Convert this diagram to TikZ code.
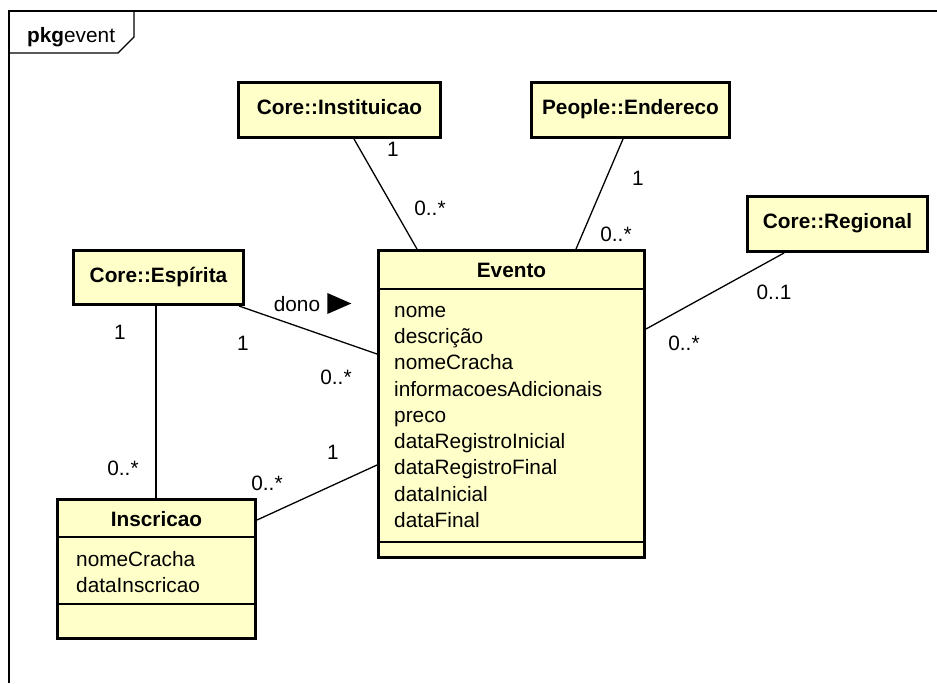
\documentclass[tikz,border=0pt]{standalone}
\usepackage{fontspec}
\setmainfont{Liberation Sans}
\usetikzlibrary{calc}
\definecolor{clsfill}{RGB}{255,255,202}
\tikzset{
  cls/.style={draw=black, line width=3pt, fill=clsfill, inner sep=0pt, anchor=north west},
  clsname/.style={font=\fontsize{20.8}{24}\selectfont\bfseries, inner sep=0pt},
  onebox/.style={cls, clsname, minimum height=55pt, text height=14.9pt, text depth=5pt},
  attr/.style={font=\fontsize{20.8}{24}\selectfont, anchor=base west, inner sep=0pt},
  mult/.style={font=\fontsize{20.8}{24}\selectfont, inner sep=0pt},
  assoc/.style={line width=1.3pt},
  sep/.style={line width=1.4pt},
  frame/.style={line width=1.3pt},
}
\begin{document}
\begin{tikzpicture}[x=1pt,y=-1pt]
\useasboundingbox (0,0) rectangle (937,683);

% package frame and its tab
\draw[frame] (937,11) -- (9,11) -- (9,683);
\draw[frame] (9,53) -- (118,53) -- (134,37) -- (134,11);
\node[anchor=base west, inner sep=0pt, font=\fontsize{20.8}{24}\selectfont] (pkg) at (27,42) {\textbf{pkg}event};

% single-compartment classes
\node[onebox, minimum width=202pt] (inst) at (237,81) {Core::Instituicao};
\node[onebox, minimum width=198pt] (endr) at (530,81) {People::Endereco};
\node[onebox, minimum width=180pt] (reg) at (746,195) {Core::Regional};
\node[onebox, minimum width=170pt, minimum height=54pt] (esp) at (72,249) {Core::Espírita};

% Evento
\node[cls, minimum width=266pt, minimum height=307pt] (evt) at (377,249) {};
\node[clsname, anchor=base] (evtname) at ($(evt.north)+(0,28.5)$) {Evento};
\draw[sep] ($(evt.north west)+(0,40)$) -- ($(evt.north east)+(0,40)$);
\draw[sep] ($(evt.south west)+(0,-17)$) -- ($(evt.south east)+(0,-17)$);
\foreach \t [count=\i] in {nome,descrição,nomeCracha,informacoesAdicionais,preco,dataRegistroInicial,dataRegistroFinal,dataInicial,dataFinal}
  \node[attr] (evta\i) at ($(evt.north west)+(17,68.3+26.25*\i-26.25)$) {\t};

% Inscricao
\node[cls, minimum width=198pt, minimum height=139pt] (insc) at (56,498) {};
\node[clsname, anchor=base] (inscname) at ($(insc.north)+(0,28.5)$) {Inscricao};
\draw[sep] ($(insc.north west)+(0,39)$) -- ($(insc.north east)+(0,39)$);
\draw[sep] ($(insc.north west)+(0,106)$) -- ($(insc.north east)+(0,106)$);
\node[attr] (insca1) at ($(insc.north west)+(20,68.5)$) {nomeCracha};
\node[attr] (insca2) at ($(insc.north west)+(20,94.5)$) {dataInscricao};

% associations
\draw[assoc] ($(inst.south west)+(117,0)$) -- ($(evt.north west)+(40,0)$);
\draw[assoc] ($(endr.south west)+(93,0)$) -- ($(evt.north west)+(199,0)$);
\draw[assoc] ($(reg.south west)+(38,0)$) -- ($(evt.north east)+(0,80)$);
\draw[assoc] ($(esp.south east)+(-6,0)$) -- ($(evt.north west)+(0,105)$);
\draw[assoc] ($(esp.south west)+(84,0)$) -- ($(insc.north west)+(100,0)$);
\draw[assoc] ($(insc.north east)+(0,22)$) -- ($(evt.north west)+(0,216)$);

% multiplicities and role names
\node[mult] (m1) at (393,149) {1};
\node[mult] (m2) at (430,208) {0..*};
\node[mult] (m3) at (638,178) {1};
\node[mult] (m4) at (616,234) {0..*};
\node[mult] (m5) at (774,292) {0..1};
\node[mult] (m6) at (684,343) {0..*};
\node[mult] (dono) at (297,304) {dono};
\fill ($(dono.east)+(7,-11)$) -- ($(dono.east)+(7,10)$) -- ($(dono.east)+(31,-0.5)$) -- cycle;
\node[mult] (m7) at (243,343) {1};
\node[mult] (m8) at (336,377) {0..*};
\node[mult] (m9) at (120,332) {1};
\node[mult] (m10) at (123,468) {0..*};
\node[mult] (m11) at (333,452) {1};
\node[mult] (m12) at (267,483) {0..*};
\end{tikzpicture}
\end{document}
